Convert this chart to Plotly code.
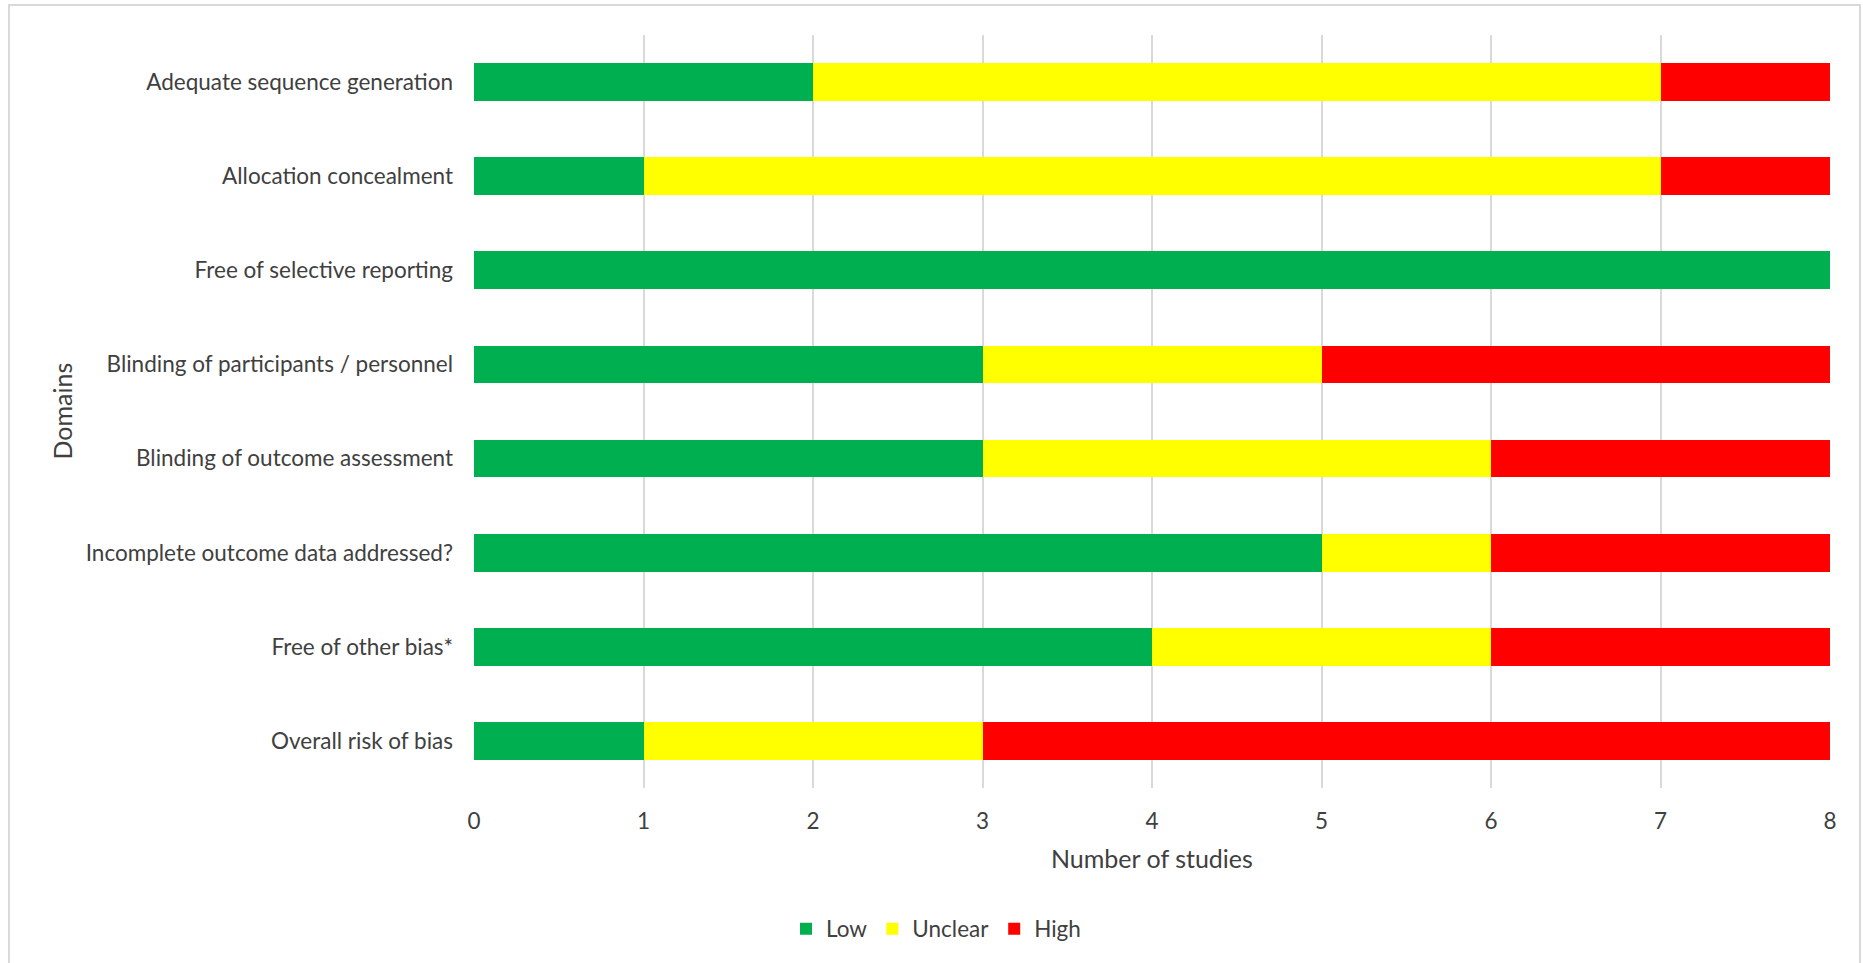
import plotly.graph_objects as go

domains = [
    "Adequate sequence generation",
    "Allocation concealment",
    "Free of selective reporting",
    "Blinding of participants / personnel",
    "Blinding of outcome assessment",
    "Incomplete outcome data addressed?",
    "Free of other bias*",
    "Overall risk of bias",
]
low = [2, 1, 8, 3, 3, 5, 4, 1]
unclear = [5, 6, 0, 2, 3, 1, 2, 2]
high = [1, 1, 0, 3, 2, 2, 2, 5]
x_ticks = [0, 1, 2, 3, 4, 5, 6, 7, 8]

W, H = 1863, 963
L, R, T, B = 474, 1830, 35, 788
pw, ph = R - L, B - T

def px(x):
    return (x - L) / pw

def py(y):
    return (B - y) / ph

FONT = "Lato"
TXT = "#404040"
FS = 22.5
FT = 25

fig = go.Figure()
for name, vals, col in [("Low", low, "#00B050"), ("Unclear", unclear, "#FFFF00"), ("High", high, "#FF0000")]:
    fig.add_trace(go.Bar(y=domains, x=vals, name=name, orientation="h",
                         marker=dict(color=col, line=dict(width=0))))

fig.update_layout(
    width=W, height=H,
    barmode="stack", bargap=0.6,
    plot_bgcolor="white", paper_bgcolor="white",
    margin=dict(l=L, r=W - R, t=T, b=H - B, autoexpand=False),
    font=dict(family=FONT, size=FS, color=TXT),
    xaxis=dict(range=[0, 8], tickvals=x_ticks, showgrid=True, gridcolor="#d9d9d9", gridwidth=1.5,
               zeroline=False, showline=False, ticks="", ticklabelstandoff=17,
               tickfont=dict(family=FONT, size=FS, color=TXT)),
    yaxis=dict(autorange="reversed", showgrid=False, zeroline=False, showline=False, ticks="",
               ticklabelstandoff=20, tickfont=dict(family=FONT, size=FS, color=TXT)),
    legend=dict(orientation="h", x=px(936), xanchor="center", y=py(929), yanchor="middle",
                font=dict(family=FONT, size=FS, color=TXT), itemwidth=30, traceorder="normal",
                bgcolor="rgba(0,0,0,0)"),
    showlegend=True,
    annotations=[
        dict(text="Domains", xref="paper", yref="paper", x=px(61), y=0.5, textangle=-90,
             showarrow=False, xanchor="center", yanchor="middle", font=dict(family=FONT, size=FT, color=TXT)),
        dict(text="Number of studies", xref="paper", yref="paper", x=0.5, y=py(858),
             showarrow=False, xanchor="center", yanchor="middle", font=dict(family=FONT, size=FT, color=TXT)),
    ],
    shapes=[
        dict(type="rect", xref="paper", yref="paper", x0=px(9), x1=px(1860), y0=py(975), y1=py(5),
             line=dict(color="#d9d9d9", width=2), fillcolor="rgba(0,0,0,0)", layer="below"),
    ],
)

fig.write_html("out.html", config={"displayModeBar": False},
               post_script="document.body.style.margin='0';document.body.style.overflow='hidden';")
